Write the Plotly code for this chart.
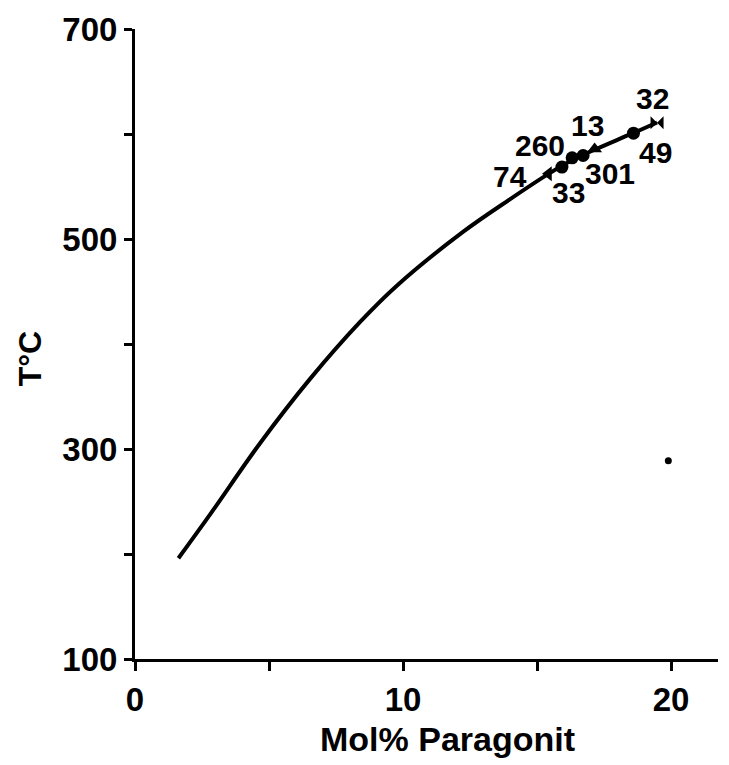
import plotly.graph_objects as go

# Curve
curve_x = [1.62, 2.81, 4.68, 6.54, 8.40, 9.79, 12.25, 14.0, 15.43, 16.3, 17.15, 18.6, 19.48]
curve_t = [196, 238, 306, 367, 421, 456, 507, 538, 562, 575, 585, 601, 611]

# Sample points
sample_ids = ["74", "33", "260", "301", "13", "49", "32"]
sample_x = [15.43, 15.93, 16.31, 16.72, 17.15, 18.6, 19.48]
sample_t = [562.2, 568.5, 577.3, 579.5, 585.7, 600.8, 610.8]
sample_symbols = ["triangle-left", "circle", "circle", "circle", "triangle-up", "circle", "bowtie"]

# Label positions (data coords)
label_x = [14.0, 16.18, 15.12, 17.71, 16.89, 19.44, 19.31]
label_t = [559.5, 544.1, 589.0, 562.2, 607.7, 582.6, 633.6]

# stray dot in the scan
stray_x = [19.9]
stray_t = [288.7]

x_ticks = [0, 5, 10, 15, 20]
x_ticktext = ["0", "", "10", "", "20"]
y_ticks = [100, 200, 300, 400, 500, 600, 700]
y_ticktext = ["100", "", "300", "", "500", "", "700"]

FONT = "Liberation Sans, Arial, sans-serif"

fig = go.Figure()
fig.add_trace(go.Scatter(x=curve_x, y=curve_t, mode="lines",
                         line=dict(color="black", width=4, shape="spline", smoothing=1.0),
                         hoverinfo="skip"))
fig.add_trace(go.Scatter(x=sample_x, y=sample_t, mode="markers",
                         marker=dict(color="black", size=13, symbol=sample_symbols),
                         text=sample_ids))
fig.add_trace(go.Scatter(x=stray_x, y=stray_t, mode="markers",
                         marker=dict(color="black", size=7)))

for sid, lx, lt in zip(sample_ids, label_x, label_t):
    fig.add_annotation(x=lx, y=lt, text=sid, showarrow=False,
                       font=dict(family=FONT, size=30, color="black", weight="bold"),
                       xanchor="center", yanchor="middle")

fig.add_annotation(xref="paper", yref="paper", x=(447 - 135) / 583, y=-(740 - 659) / 639,
                   text="Mol% Paragonit", showarrow=False,
                   font=dict(family=FONT, size=34, color="black", weight="bold"),
                   xanchor="center", yanchor="middle")
fig.add_annotation(xref="paper", yref="paper", x=-(135 - 30) / 583, y=(659 - 355) / 639,
                   text="T°C", textangle=-90, showarrow=False,
                   font=dict(family=FONT, size=32, color="black", weight="bold"),
                   xanchor="center", yanchor="middle")

fig.update_layout(
    width=729, height=765,
    margin=dict(l=135, r=11, t=20, b=106),
    paper_bgcolor="white", plot_bgcolor="white",
    showlegend=False,
    xaxis=dict(range=[0, 583 / 26.8], tickvals=x_ticks, ticktext=x_ticktext,
               showgrid=False, zeroline=False, showline=True, linecolor="black", linewidth=3,
               ticks="outside", ticklen=9, tickwidth=3, tickcolor="black",
               tickfont=dict(family=FONT, size=33, color="black", weight="bold")),
    yaxis=dict(range=[100, 700], tickvals=y_ticks, ticktext=y_ticktext,
               showgrid=False, zeroline=False, showline=True, linecolor="black", linewidth=3,
               ticks="outside", ticklen=8, tickwidth=3, tickcolor="black",
               ticklabelstandoff=0,
               tickfont=dict(family=FONT, size=33, color="black", weight="bold")),
)

fig.write_html("out.html")
